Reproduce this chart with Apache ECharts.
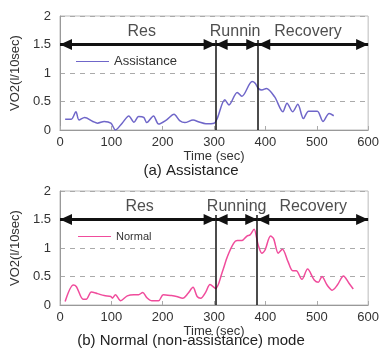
<!DOCTYPE html>
<html>
<head>
<meta charset="utf-8">
<script src="https://cdn.jsdelivr.net/npm/echarts@6/dist/echarts.min.js"></script>
<style>
  html, body { margin: 0; padding: 0; background: #fff; }
  #chart { width: 382px; height: 349px; }
</style>
</head>
<body>
<div id="chart"></div>
<script>
// ===== data =====
const assistTime = [10, 22, 31, 37, 48, 64, 73, 86, 99, 108, 121, 134, 144, 153, 163, 169, 182, 192, 207, 222, 233, 243, 259, 271, 284, 300, 306, 321, 329, 345, 354, 374, 380, 386, 393, 402, 418, 434, 442, 453, 463, 474, 484, 501, 512, 524, 533];
const assistVO2 = [0.19, 0.19, 0.32, 0.175, 0.22, 0.15, 0.12, 0.15, 0.12, 0.0, 0.12, 0.245, 0.135, 0.235, 0.22, 0.13, 0.245, 0.105, 0.175, 0.275, 0.165, 0.13, 0.175, 0.14, 0.11, 0.12, 0.2, 0.53, 0.44, 0.66, 0.59, 0.85, 0.82, 0.73, 0.70, 0.73, 0.58, 0.32, 0.47, 0.32, 0.45, 0.2, 0.33, 0.33, 0.15, 0.29, 0.25];

const normalTime = [10, 26, 32, 45, 51, 61, 73, 86, 99, 102, 108, 118, 131, 144, 153, 161, 169, 179, 192, 201, 217, 227, 239, 249, 259, 267, 274, 284, 292, 303, 316, 326, 338, 345, 354, 364, 370, 378, 383, 386, 393, 399, 410, 416, 425, 433, 444, 453, 460, 471, 482, 495, 503, 510, 520, 530, 540, 552, 562, 571];
const normalVO2 = [0.06, 0.35, 0.32, 0.1, 0.1, 0.23, 0.2, 0.165, 0.15, 0.12, 0.18, 0.075, 0.16, 0.18, 0.18, 0.22, 0.13, 0.075, 0.075, 0.18, 0.165, 0.15, 0.12, 0.2, 0.31, 0.15, 0.12, 0.23, 0.36, 0.29, 0.58, 0.85, 1.08, 1.13, 1.13, 1.21, 1.23, 1.33, 1.17, 1.05, 0.91, 0.96, 1.21, 1.16, 0.91, 0.98, 0.76, 0.6, 0.6, 0.45, 0.63, 0.44, 0.4, 0.5, 0.35, 0.26, 0.35, 0.51, 0.39, 0.28];

// phase boundaries (sec) and labels
const assistBounds = [303, 386];
const normalBounds = [303, 384];
const assistPhaseNames = ['Res', 'Runnin', 'Recovery'];
const normalPhaseNames = ['Res', 'Running', 'Recovery'];
const assistPhaseX = [159, 341, 483];
const normalPhaseX = [155, 344, 493];
const phaseLabelY = 1.72;
const arrowY = 1.5;
const boundTop = 1.58;

const xTicks = [0, 100, 200, 300, 400, 500, 600];
const yTicks = [0, 0.5, 1, 1.5, 2];

const FONT = '"Liberation Sans", Arial, sans-serif';
const HEAD = 12;   // arrowhead length (px)

const chart = echarts.init(document.getElementById('chart'));

function pairs(xs, ys) {
    return xs.map((x, i) => [x, ys[i]]);
}

function makeX(gridIndex) {
    return {
        type: 'value', gridIndex: gridIndex,
        min: xTicks[0], max: xTicks[xTicks.length - 1], interval: 100,
        name: 'Time (sec)', nameLocation: 'middle', nameGap: 17,
        nameTextStyle: { fontFamily: FONT, fontSize: 13, color: '#333' },
        axisLine: { lineStyle: { color: '#999', width: 1 } },
        axisTick: { show: true, inside: true, length: 4, lineStyle: { color: '#aaa' } },
        axisLabel: { fontFamily: FONT, fontSize: 13, color: '#333', margin: 6 },
        splitLine: { show: false },
    };
}

function makeY(gridIndex) {
    return {
        type: 'value', gridIndex: gridIndex,
        min: yTicks[0], max: yTicks[yTicks.length - 1], interval: 0.5,
        name: 'VO2(l/10sec)', nameLocation: 'middle', nameGap: 33, nameRotate: 90,
        nameTextStyle: { fontFamily: FONT, fontSize: 13, color: '#333' },
        axisLine: { show: true, lineStyle: { color: '#999', width: 1 } },
        axisTick: { show: false },
        axisLabel: { fontFamily: FONT, fontSize: 13, color: '#333', margin: 9 },
        splitLine: { show: true, lineStyle: { color: '#aaa', type: [5, 5], width: 1 } },
    };
}

// arrows, boundary lines, phase labels
function annotation(idx, bounds, names, xs) {
    const edges = [xTicks[0]].concat(bounds, [xTicks[xTicks.length - 1]]);
    const head = { symbol: 'triangle', symbolSize: [11, HEAD], symbolOffset: [0, HEAD / 2] };
    const arrows = [];
    for (let i = 0; i < edges.length - 1; i++) {
        // offset is along the arrow, so the tips sit on the end points
        arrows.push([
            Object.assign({ coord: [edges[i], arrowY] }, head),
            Object.assign({ coord: [edges[i + 1], arrowY] }, head),
        ]);
    }
    const verts = bounds.map(b => [
        { coord: [b, 0], symbol: 'none', lineStyle: { width: 1.5, color: '#111', type: 'solid' } },
        { coord: [b, boundTop], symbol: 'none' },
    ]);
    return {
        type: 'scatter', xAxisIndex: idx, yAxisIndex: idx,
        symbolSize: 0, silent: true,
        data: names.map((n, i) => ({ name: n, value: [xs[i], phaseLabelY] })),
        label: {
            show: true, position: 'inside', formatter: '{b}',
            fontFamily: FONT, fontSize: 16, color: '#222',
        },
        markLine: {
            silent: true, animation: false,
            label: { show: false },
            lineStyle: { color: '#111', width: 3, type: 'solid' },
            data: arrows.concat(verts),
        },
    };
}

const option = {
    animation: false,
    title: [
        { text: '(a) Assistance', left: 'center', top: 163, padding: 0,
          textStyle: { fontFamily: FONT, fontSize: 15, fontWeight: 'normal', color: '#222' } },
        { text: '(b) Normal (non-assistance) mode', left: 'center', top: 333, padding: 0,
          textStyle: { fontFamily: FONT, fontSize: 15, fontWeight: 'normal', color: '#222' } },
    ],
    legend: [
        { data: ['Assistance'], left: 71, top: 50, icon: 'rect', itemWidth: 33, itemHeight: 1.2,
          itemGap: 4, textStyle: { fontFamily: FONT, fontSize: 13, color: '#333' } },
        { data: ['Normal'], left: 73, top: 226, icon: 'rect', itemWidth: 33, itemHeight: 1.2,
          textStyle: { fontFamily: FONT, fontSize: 11, color: '#333' } },
    ],
    grid: [
        { left: 60, top: 16, right: 9, height: 114, show: true, borderColor: '#bbb', borderWidth: 1 },
        { left: 60, top: 191, right: 9, height: 114, show: true, borderColor: '#bbb', borderWidth: 1 },
    ],
    xAxis: [makeX(0), makeX(1)],
    yAxis: [makeY(0), makeY(1)],
    series: [
        {
            name: 'Assistance', type: 'line', xAxisIndex: 0, yAxisIndex: 0,
            data: pairs(assistTime, assistVO2), smooth: 0.3, symbol: 'none',
            lineStyle: { color: '#6f66c9', width: 1.5 }, itemStyle: { color: '#6f66c9' },
        },
        {
            name: 'Normal', type: 'line', xAxisIndex: 1, yAxisIndex: 1,
            data: pairs(normalTime, normalVO2), smooth: 0.3, symbol: 'none',
            lineStyle: { color: '#f04c9c', width: 1.5 }, itemStyle: { color: '#f04c9c' },
        },
        annotation(0, assistBounds, assistPhaseNames, assistPhaseX),
        annotation(1, normalBounds, normalPhaseNames, normalPhaseX),
    ],
};

chart.setOption(option);
</script>
</body>
</html>
